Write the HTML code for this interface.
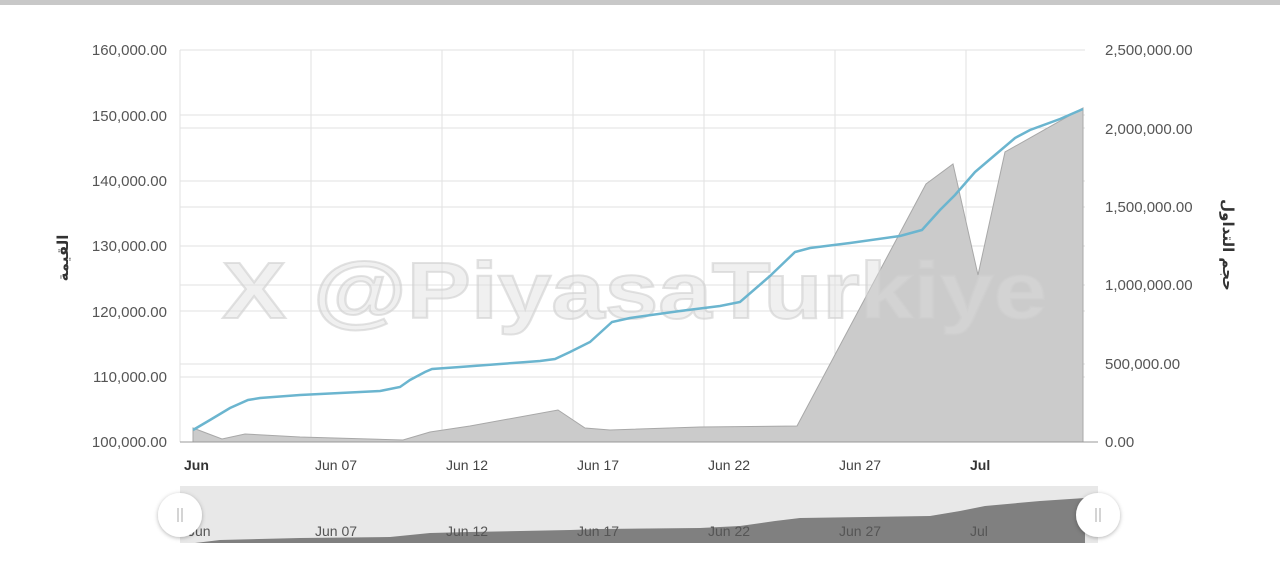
<!DOCTYPE html>
<html><head><meta charset="utf-8"><style>
body{margin:0;background:#fff;width:1280px;height:564px;overflow:hidden;font-family:"Liberation Sans","Noto Sans CJK SC",sans-serif}
</style></head><body>
<svg width="1280" height="564" xmlns="http://www.w3.org/2000/svg" font-family="Liberation Sans, DejaVu Sans, sans-serif">
<rect x="0" y="0" width="1280" height="5" fill="#c8c8c8"/>
<g stroke="#e2e2e2" stroke-width="1">
<line x1="180" y1="50" x2="1085" y2="50"/><line x1="180" y1="115" x2="1085" y2="115"/><line x1="180" y1="128" x2="1085" y2="128"/>
<line x1="180" y1="181" x2="1085" y2="181"/><line x1="180" y1="207" x2="1085" y2="207"/><line x1="180" y1="246" x2="1085" y2="246"/>
<line x1="180" y1="285" x2="1085" y2="285"/><line x1="180" y1="311" x2="1085" y2="311"/><line x1="180" y1="364" x2="1085" y2="364"/>
<line x1="180" y1="377" x2="1085" y2="377"/>
<line x1="180" y1="50" x2="180" y2="442"/><line x1="311" y1="50" x2="311" y2="442"/><line x1="442" y1="50" x2="442" y2="442"/>
<line x1="573" y1="50" x2="573" y2="442"/><line x1="704" y1="50" x2="704" y2="442"/><line x1="835" y1="50" x2="835" y2="442"/><line x1="966" y1="50" x2="966" y2="442"/>
</g>
<polygon fill="#cbcbcb" stroke="#a8a8a8" stroke-width="1" points="193,428 222,439 245,434 300,437 403,440 430,432 470,426 558,410 585,428 610,430 700,427 797,426 926,184 953,164 978,275 1005,152 1083,108 1083,442 193,442"/>
<text x="222" y="318" textLength="825" lengthAdjust="spacingAndGlyphs" font-size="80" font-weight="bold" fill="#dddddd" fill-opacity="0.45" stroke="#cfcfcf" stroke-opacity="0.6" stroke-width="2">X @PiyasaTurkiye</text>
<polyline fill="none" stroke="#6bb5cf" stroke-width="2.5" points="193,430 210,420 230,408 248,400 260,398 300,395 340,393 380,391 400,387 410,380 425,372 432,369 460,367 500,364 540,361 555,359 570,352 590,342 612,322 630,318 680,311 720,306 740,302 770,276 795,252 810,248 850,243 900,236 922,230 940,210 955,195 975,172 995,155 1015,138 1030,130 1060,119 1083,109"/>
<line x1="180" y1="442" x2="1098" y2="442" stroke="#999"/>
<g font-size="15" fill="#555" text-anchor="end">
<text x="167" y="55">160,000.00</text><text x="167" y="121">150,000.00</text><text x="167" y="186">140,000.00</text>
<text x="167" y="251">130,000.00</text><text x="167" y="317">120,000.00</text><text x="167" y="382">110,000.00</text><text x="167" y="447">100,000.00</text>
</g>
<g font-size="15" fill="#555">
<text x="1105" y="55">2,500,000.00</text><text x="1105" y="134">2,000,000.00</text><text x="1105" y="212">1,500,000.00</text>
<text x="1105" y="290">1,000,000.00</text><text x="1105" y="369">500,000.00</text><text x="1105" y="447">0.00</text>
</g>
<text transform="translate(68,258) rotate(-90)" text-anchor="middle" font-size="15" font-weight="bold" fill="#333" font-family="DejaVu Sans, sans-serif">القيمة</text>
<text transform="translate(1223,245) rotate(90)" text-anchor="middle" font-size="15" font-weight="bold" fill="#333" font-family="DejaVu Sans, sans-serif">حجم التداول</text>
<g font-size="14" fill="#444">
<text x="184" y="470" font-weight="bold" fill="#333">Jun</text><text x="315" y="470">Jun 07</text><text x="446" y="470">Jun 12</text>
<text x="577" y="470">Jun 17</text><text x="708" y="470">Jun 22</text><text x="839" y="470">Jun 27</text><text x="970" y="470" font-weight="bold" fill="#333">Jul</text>
</g>
<rect x="180" y="486" width="918" height="57" fill="#e8e8e8"/>
<polygon fill="#808080" points="195,543 220,540 300,538 390,537 430,533 470,532 570,530 600,529 700,528 740,526 775,521 800,518 930,516 960,511 985,506 1040,501 1085,498 1085,543"/>
<g font-size="14" fill="#555">
<text x="188" y="536">Jun</text><text x="315" y="536">Jun 07</text><text x="446" y="536">Jun 12</text>
<text x="577" y="536">Jun 17</text><text x="708" y="536">Jun 22</text><text x="839" y="536">Jun 27</text><text x="970" y="536">Jul</text>
</g>
<defs><filter id="s" x="-50%" y="-50%" width="200%" height="200%"><feDropShadow dx="0" dy="1" stdDeviation="2" flood-color="#000" flood-opacity="0.3"/></filter></defs>
<circle cx="180" cy="515" r="22" fill="#fff" filter="url(#s)"/>
<circle cx="1098" cy="515" r="22" fill="#fff" filter="url(#s)"/>
<g stroke="#aaa" stroke-width="1"><line x1="178" y1="508" x2="178" y2="522"/><line x1="182" y1="508" x2="182" y2="522"/>
<line x1="1096" y1="508" x2="1096" y2="522"/><line x1="1100" y1="508" x2="1100" y2="522"/></g>
</svg>
</body></html>
